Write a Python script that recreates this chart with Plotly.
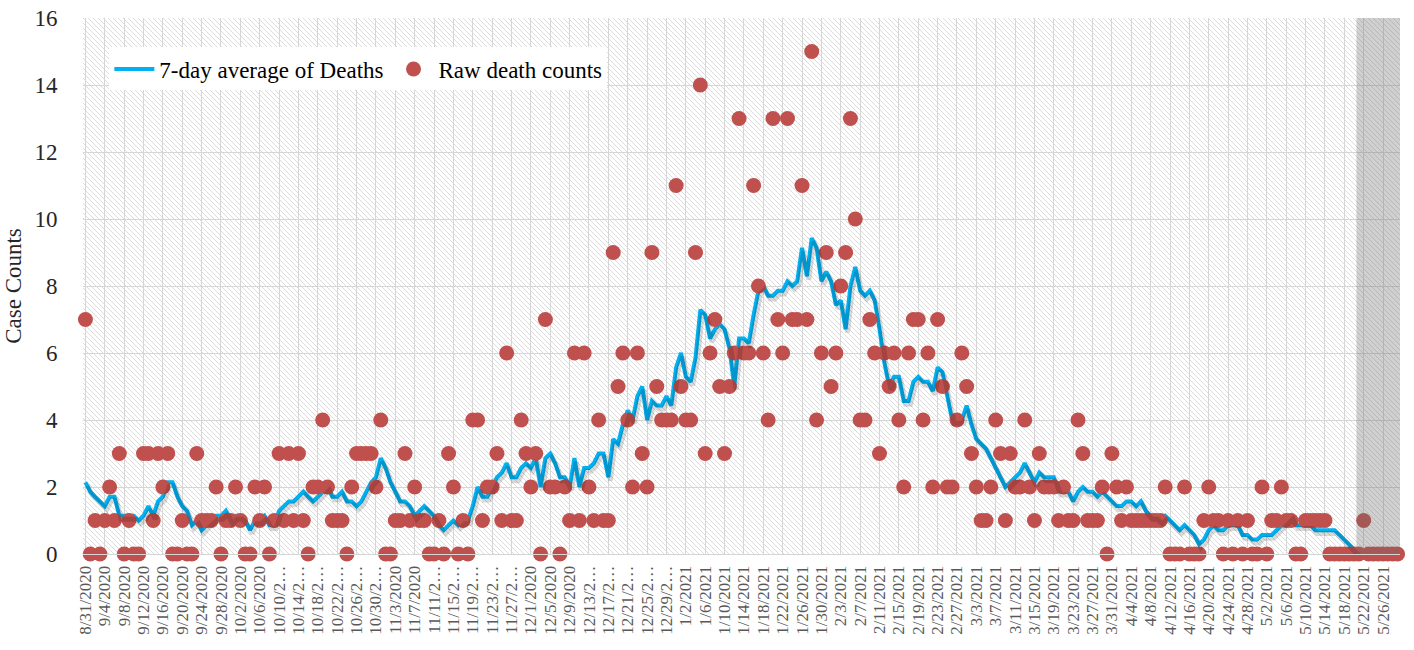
import base64
import pandas as pd
import plotly.graph_objects as go

# ---------------- data ----------------
DATES = [f"{d.month}/{d.day}/{d.year}" for d in pd.date_range("2020-08-31", "2021-05-29")]

RAW_DEATHS = [
    7, 0, 1, 0, 1, 2, 1, 3, 0, 1,
    0, 0, 3, 3, 1, 3, 2, 3, 0, 0,
    1, 0, 0, 3, 1, 1, 1, 2, 0, 1,
    1, 2, 1, 0, 0, 2, 1, 2, 0, 1,
    3, 1, 3, 1, 3, 1, 0, 2, 2, 4,
    2, 1, 1, 1, 0, 2, 3, 3, 3, 3,
    2, 4, 0, 0, 1, 1, 3, 1, 2, 1,
    1, 0, 0, 1, 0, 3, 2, 0, 1, 0,
    4, 4, 1, 2, 2, 3, 1, 6, 1, 1,
    4, 3, 2, 3, 0, 7, 2, 2, 0, 2,
    1, 6, 1, 6, 2, 1, 4, 1, 1, 9,
    5, 6, 4, 2, 6, 3, 2, 9, 5, 4,
    4, 4, 11, 5, 4, 4, 9, 14, 3, 6,
    7, 5, 3, 5, 6, 13, 6, 6, 11, 8,
    6, 4, 13, 7, 6, 13, 7, 7, 11, 7,
    15, 4, 6, 9, 5, 6, 8, 9, 13, 10,
    4, 4, 7, 6, 3, 6, 5, 6, 4, 2,
    6, 7, 7, 4, 6, 2, 7, 5, 2, 2,
    4, 6, 5, 3, 2, 1, 1, 2, 4, 3,
    1, 3, 2, 2, 4, 2, 1, 3, 2, 2,
    2, 1, 2, 1, 1, 4, 3, 1, 1, 1,
    2, 0, 3, 2, 1, 2, 1, 1, 1, 1,
    1, 1, 1, 2, 0, 0, 0, 2, 0, 0,
    0, 1, 2, 1, 1, 0, 1, 0, 1, 0,
    1, 0, 0, 2, 0, 1, 1, 2, 1, 1,
    0, 0, 1, 1, 1, 1, 1, 0, 0, 0,
    0, 0, 0, 0, 1, 0, 0, 0, 0, 0,
    0, 0,
]

AVG_7DAY = [
    2.14, 1.86, 1.71, 1.57, 1.43, 1.71, 1.71, 1.14, 1.14, 1.14,
    1.14, 1.0, 1.14, 1.43, 1.14, 1.57, 1.71, 2.14, 2.14, 1.71,
    1.43, 1.29, 0.86, 1.0, 0.71, 0.86, 1.0, 1.14, 1.14, 1.29,
    1.0, 1.14, 1.14, 1.0, 0.71, 1.0, 1.0, 1.14, 0.86, 0.86,
    1.29, 1.43, 1.57, 1.57, 1.71, 1.86, 1.71, 1.57, 1.71, 1.86,
    2.0, 1.71, 1.71, 1.86, 1.57, 1.57, 1.43, 1.57, 1.86, 2.14,
    2.29, 2.86, 2.57, 2.14, 1.86, 1.57, 1.57, 1.43, 1.14, 1.29,
    1.43, 1.29, 1.14, 0.86, 0.71, 0.86, 1.0, 0.86, 1.0, 1.0,
    1.43, 2.0, 1.71, 1.71, 2.0, 2.29, 2.43, 2.71, 2.29, 2.29,
    2.57, 2.71, 2.57, 2.86, 2.0, 2.86, 3.0, 2.71, 2.29, 2.29,
    2.0, 2.86, 2.0, 2.57, 2.57, 2.71, 3.0, 3.0, 2.29, 3.43,
    3.29, 3.86, 4.29, 4.0, 4.71, 5.0, 4.0, 4.57, 4.43, 4.43,
    4.71, 4.43, 5.57, 6.0, 5.29, 5.14, 5.86, 7.29, 7.14, 6.43,
    6.71, 6.86, 6.71, 6.14, 5.0, 6.43, 6.43, 6.29, 7.14, 7.86,
    8.0, 7.71, 7.71, 7.86, 7.86, 8.14, 8.0, 8.14, 9.14, 8.29,
    9.43, 9.14, 8.14, 8.43, 8.14, 7.43, 7.57, 6.71, 8.0, 8.57,
    7.86, 7.71, 7.86, 7.57, 6.71, 5.71, 5.0, 5.29, 5.29, 4.57,
    4.57, 5.14, 5.29, 5.14, 5.14, 4.86, 5.57, 5.43, 4.71, 4.0,
    4.0, 4.0, 4.43, 3.86, 3.43, 3.29, 3.14, 2.86, 2.57, 2.29,
    2.0, 2.14, 2.29, 2.43, 2.71, 2.43, 2.14, 2.43, 2.29, 2.29,
    2.29, 1.86, 1.86, 1.86, 1.57, 1.86, 2.0, 1.86, 1.86, 1.71,
    1.86, 1.71, 1.57, 1.43, 1.43, 1.57, 1.57, 1.43, 1.57, 1.29,
    1.14, 1.14, 1.0, 1.14, 1.0, 0.86, 0.71, 0.86, 0.71, 0.57,
    0.29, 0.43, 0.71, 0.86, 0.71, 0.71, 0.86, 0.86, 0.86, 0.57,
    0.57, 0.43, 0.43, 0.57, 0.57, 0.57, 0.71, 0.86, 1.0, 1.14,
    0.86, 0.86, 0.86, 0.86, 0.71, 0.71, 0.71, 0.71, 0.71, 0.57,
    0.43, 0.29, 0.14, 0.0,
]
AVG_DATES = DATES[:len(AVG_7DAY)]

TICK_DATES = DATES[::4]
TICK_TEXT = [s if len(s) <= 9 else s[:7] + "\u2026" for s in TICK_DATES]

Y_TICKS = [0, 2, 4, 6, 8, 10, 12, 14, 16]
SHADE_FROM = "5/21/2021"

SERIF = "Liberation Serif, Times New Roman, serif"
LINE_COLOR = "#00B0F0"
DOT_COLOR = "#C0504D"
GRID = "#d6d6d6"

W, H = 1414, 650
ML, MR, MT, MB = 83, 14, 18, 96
PW, PH = W - ML - MR, H - MT - MB

# hatched plot background (svg pattern, same pixel size as the plot area)
svg = (
    f'<svg xmlns="http://www.w3.org/2000/svg" width="{PW}" height="{PH}" viewBox="0 0 {PW} {PH}">'
    '<defs><pattern id="h" patternUnits="userSpaceOnUse" width="5" height="5">'
    '<path d="M-1,-1 L6,6 M-1,4 L1,6 M4,-1 L6,1" stroke="#d3d3d3" stroke-width="0.8"/>'
    '</pattern></defs><rect width="100%" height="100%" fill="url(#h)"/></svg>'
)
hatch_src = "data:image/svg+xml;base64," + base64.b64encode(svg.encode()).decode()

fig = go.Figure()

# soft shadow under the average line
fig.add_trace(go.Scatter(
    x=AVG_DATES, y=AVG_7DAY, mode="lines",
    line=dict(color="rgba(0,0,0,0.15)", width=5),
    xaxis="x2", yaxis="y2", showlegend=False, hoverinfo="skip",
))
fig.add_trace(go.Scatter(
    x=AVG_DATES, y=AVG_7DAY, mode="lines", name="7-day average of Deaths",
    line=dict(color=LINE_COLOR, width=4),
))
fig.add_trace(go.Scatter(
    x=DATES, y=RAW_DEATHS, mode="markers", name="Raw death counts",
    marker=dict(color=DOT_COLOR, size=15, line=dict(width=0)),
    cliponaxis=False,
))

n = len(DATES)
shade_start = DATES.index(SHADE_FROM) - 0.5

fig.update_layout(
    width=W, height=H,
    margin=dict(l=ML, r=MR, t=MT, b=MB, autoexpand=False),
    paper_bgcolor="white",
    plot_bgcolor="rgba(0,0,0,0)",
    font=dict(family=SERIF, color="#000000"),
    showlegend=True,
    legend=dict(
        orientation="h", x=0.02, y=0.945, xanchor="left", yanchor="top",
        bgcolor="white", borderwidth=0,
        font=dict(family=SERIF, size=23, color="#000000"),
        itemwidth=40, tracegroupgap=0,
    ),
    xaxis=dict(
        type="category", categoryorder="array", categoryarray=DATES,
        range=[-0.5, n - 0.5], automargin=False,
        tickmode="array", tickvals=TICK_DATES, ticktext=TICK_TEXT,
        tickangle=-90,
        tickfont=dict(family=SERIF, size=17, color="#595959"),
        ticks="outside", ticklen=4, tickcolor="rgba(0,0,0,0)",
        showgrid=True, gridcolor=GRID, gridwidth=1.2,
        showline=True, linecolor=GRID, linewidth=1,
        zeroline=False,
    ),
    xaxis2=dict(
        type="category", categoryorder="array", categoryarray=DATES,
        overlaying="x", range=[-0.5 - 0.4, n - 0.5 - 0.4], visible=False,
    ),
    yaxis=dict(
        range=[0, 16], tickmode="array", tickvals=Y_TICKS, automargin=False,
        tickfont=dict(family=SERIF, size=23, color="#262626"),
        ticks="outside", ticklen=20, tickcolor="rgba(0,0,0,0)",
        ticklabeloverflow="allow",
        showgrid=True, gridcolor=GRID, gridwidth=1.2,
        zeroline=False, showline=False,
        title=dict(text="Case Counts", font=dict(family=SERIF, size=23, color="#262626"), standoff=6),
    ),
    yaxis2=dict(overlaying="y", range=[0.1, 16.1], visible=False),
    images=[dict(
        source=hatch_src, xref="paper", yref="paper", x=0, y=1,
        sizex=1, sizey=1, xanchor="left", yanchor="top",
        sizing="stretch", layer="below", opacity=1,
    )],
    shapes=[dict(
        type="rect", xref="x", yref="paper",
        x0=shade_start, x1=n - 0.5, y0=0, y1=1,
        fillcolor="rgba(110,110,110,0.32)", line=dict(width=0), layer="above",
    )],
)

# remove the default 8px page margin so the figure fills the window exactly
fig.write_html(
    "out.html",
    config={"displayModeBar": False},
    post_script="document.body.style.margin='0';document.body.style.overflow='hidden';",
)
